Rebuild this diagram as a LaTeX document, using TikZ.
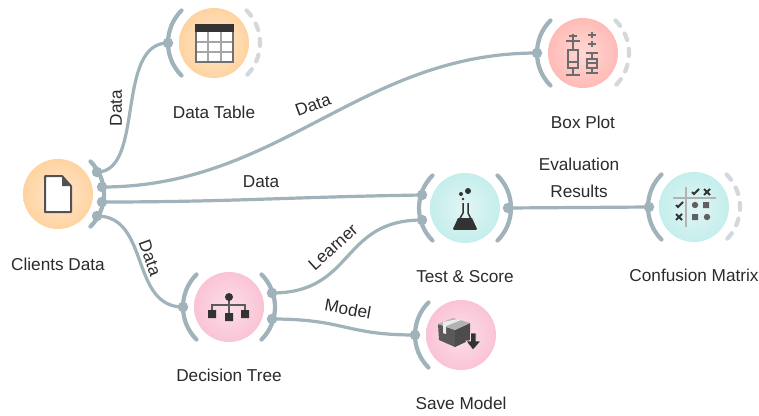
\documentclass[tikz,border=0pt]{standalone}
\usepackage{fontspec}
\setmainfont{Liberation Sans}
\definecolor{wirec}{HTML}{A0B2BA}
\definecolor{dashc}{HTML}{D2D8DB}
\definecolor{inkc}{HTML}{333333}
\definecolor{txtc}{HTML}{2B2B2B}
\definecolor{orin}{HTML}{FFE8D0}\definecolor{orout}{HTML}{FFD3A0}
\definecolor{tein}{HTML}{E2F6F5}\definecolor{teout}{HTML}{C4EEEC}
\definecolor{piin}{HTML}{FBDFE9}\definecolor{piout}{HTML}{FAC3D6}
\definecolor{rein}{HTML}{FFD8D5}\definecolor{reout}{HTML}{FFBBB6}
\tikzset{
  x=1pt,y=-1pt,
  widget/.style={circle,minimum size=70pt,inner sep=0pt,draw=none},
  dataw/.style={widget,inner color=orin,outer color=orout},
  evalw/.style={widget,inner color=tein,outer color=teout},
  modelw/.style={widget,inner color=piin,outer color=piout},
  plotw/.style={widget,inner color=rein,outer color=reout},
  arcline/.style={draw=wirec,line width=4.2pt,line cap=round},
  dashline/.style={draw=dashc,line width=4.2pt,line cap=round,dash pattern=on 7pt off 9pt},
  wire/.style={draw=wirec,line width=3.2pt},
  port/.style={circle,fill=wirec,minimum size=10.5pt,inner sep=0pt},
  lab/.style={text=txtc,font=\fontsize{17.2}{20}\selectfont,inner sep=0pt,anchor=center},
}
\newcommand{\leftarc}[1]{\draw[arcline] (#1) ++(135:46) arc[start angle=135,end angle=225,radius=46];}
\newcommand{\rightarc}[1]{\draw[arcline] (#1) ++(45:46) arc[start angle=45,end angle=-45,radius=46];}
\newcommand{\dasharc}[1]{\draw[dashline] (#1) ++(-45:46) arc[start angle=-45,end angle=45,radius=46];}
\begin{document}
\begin{tikzpicture}
\useasboundingbox (0,0) rectangle (759,415);
\fill[white] (0,0) rectangle (759,415);
% widgets
\node[dataw] (cd) at (58,194) {};
\node[dataw] (dt) at (214,43) {};
\node[plotw] (bp) at (583,53) {};
\node[evalw] (ts) at (465,208) {};
\node[evalw] (cm) at (694,207) {};
\node[modelw] (tree) at (229,307) {};
\node[modelw] (sm) at (461,335) {};
% channel arcs
\rightarc{cd}
\leftarc{dt}\dasharc{dt}
\leftarc{bp}\dasharc{bp}
\leftarc{ts}\rightarc{ts}
\leftarc{cm}\dasharc{cm}
\leftarc{tree}\rightarc{tree}
\leftarc{sm}
% ports
\node[port] (cd1) at (97,172) {};
\node[port] (cd2) at (102,187) {};
\node[port] (cd3) at (102,202) {};
\node[port] (cd4) at (97,216) {};
\node[port] (dtin) at (168,43) {};
\node[port] (bpin) at (537,53) {};
\node[port] (tsa) at (422,195) {};
\node[port] (tsb) at (422,220) {};
\node[port] (tsout) at (508,208) {};
\node[port] (cmin) at (649,207) {};
\node[port] (trin) at (183,307) {};
\node[port] (tra) at (272,293) {};
\node[port] (trb) at (272,319) {};
\node[port] (smin) at (415,335) {};
% connectors
\draw[wire] (cd1.center) .. controls (145,172) and (115,43) .. (dtin.center);
\draw[wire] (cd2.center) .. controls (280,187) and (360,53) .. (bpin.center);
\draw[wire] (cd3.center) .. controls (230,202) and (290,197) .. (tsa.center);
\draw[wire] (cd4.center) .. controls (150,216) and (130,307) .. (trin.center);
\draw[wire] (tra.center) .. controls (355,293) and (340,220) .. (tsb.center);
\draw[wire] (trb.center) .. controls (345,319) and (345,335) .. (smin.center);
\draw[wire] (tsout.center) -- (cmin.center);
% labels
\node[lab] (l1) at (58,264) {Clients Data};
\node[lab] (l2) at (214,112) {Data Table};
\node[lab] (l3) at (583,122) {Box Plot};
\node[lab] (l4) at (465,277) {Test \& Score};
\node[lab] (l5) at (694,275) {Confusion Matrix};
\node[lab] (l6) at (229,375) {Decision Tree};
\node[lab] (l7) at (461,403) {Save Model};
\node[lab,rotate=90] (c1) at (116,108) {Data};
\node[lab,rotate=20] (c2) at (313,105) {Data};
\node[lab] (c3) at (261,182) {Data};
\node[lab,rotate=-70] (c4) at (150,258) {Data};
\node[lab] (c5) at (579,164) {Evaluation};
\node[lab] (c6) at (579,191) {Results};
\node[lab,rotate=42] (c7) at (333,247) {Learner};
\node[lab,rotate=-10] (c8) at (348,309) {Model};
% icon: file
\draw[draw=inkc!85!white,fill=white,line width=2pt,line join=round] (45,176) -- (62,176) -- (71,186) -- (71,212) -- (45,212) -- cycle;
\fill[inkc!85!white] (62,176) -- (71,186) -- (62,186) -- cycle;
% icon: table
\fill[white] (196,25) rectangle (233,62);
\draw[gray!70,line width=1.2pt] (208,32) -- (208,61) (221,32) -- (221,61) (196,42) -- (233,42) (196,52) -- (233,52);
\draw[inkc!70!white,line width=1.6pt] (196,25) rectangle (233,62);
\fill[inkc] (195,24) rectangle (234,32);
% icon: box plot
\begin{scope}[draw=gray!85!black,line width=1.5pt]
\draw (573,34) -- (573,41) (569,36) -- (577,36) (566,41) -- (580,41) (573,41) -- (573,50);
\draw (568,50) rectangle (578,68) (568,62) -- (578,62);
\draw (573,68) -- (573,75) (566,75) -- (580,75);
\draw (592,32) -- (592,38) (588,35) -- (596,35) (592,41) -- (592,47) (588,44) -- (596,44);
\draw (586,53) -- (598,53) (592,53) -- (592,59);
\draw (587,59) rectangle (597,68) (587,63) -- (597,63);
\draw (592,68) -- (592,73) (586,73) -- (598,73);
\end{scope}
% icon: flask
\draw[inkc,line width=1.5pt,line join=round] (463,203) -- (463,213) -- (454,229) -- (476,229) -- (468,213) -- (468,203);
\fill[inkc] (458,218) -- (472,218) -- (477,229) -- (475,229) -- (455,229) -- (453,229) -- cycle;
\fill[inkc] (468,191) circle[radius=3];
\fill[inkc] (461,194) circle[radius=2];
\fill[inkc] (463,199) circle[radius=1.4];
% icon: confusion matrix
\draw[gray!60,line width=1.5pt] (686,187) -- (686,227) (673,198) -- (716,198);
\draw[inkc,line width=1.8pt] (692,192) -- (694,194) -- (699,189) (676,205) -- (678,207) -- (683,202);
\draw[inkc,line width=1.8pt] (704,189) -- (710,195) (710,189) -- (704,195) (676,214) -- (682,220) (682,214) -- (676,220);
\fill[gray!75!black] (695,205) circle[radius=3.2] (707,217) circle[radius=3.2] (703,202) rectangle (709,208) (692,214) rectangle (698,220);
% icon: tree
\draw[inkc!80!white,line width=1.2pt] (229,297) -- (229,317) (212,314) -- (212,305) -- (245,305) -- (245,314);
\fill[inkc] (229,297) circle[radius=4] (208,310) rectangle (216,318) (225,313) rectangle (233,321) (241,310) rectangle (249,318);
% icon: save model
\fill[gray!70!black] (438,324) -- (455,330) -- (455,347) -- (439,340) -- cycle;
\fill[gray!60!black] (455,330) -- (470,323) -- (470,340) -- (455,347) -- cycle;
\fill[gray!60] (438,324) -- (453,318) -- (470,323) -- (455,330) -- cycle;
\fill[white!85!gray] (443,322) -- (458,319) -- (461,320) -- (446,326) -- (446,334) -- (443,333) -- cycle;
\fill[inkc,draw=piin,line width=.6pt] (470.5,333) -- (476,333) -- (476,341) -- (481,341) -- (473,350) -- (466,341) -- (470.5,341) -- cycle;
\end{tikzpicture}
\end{document}
